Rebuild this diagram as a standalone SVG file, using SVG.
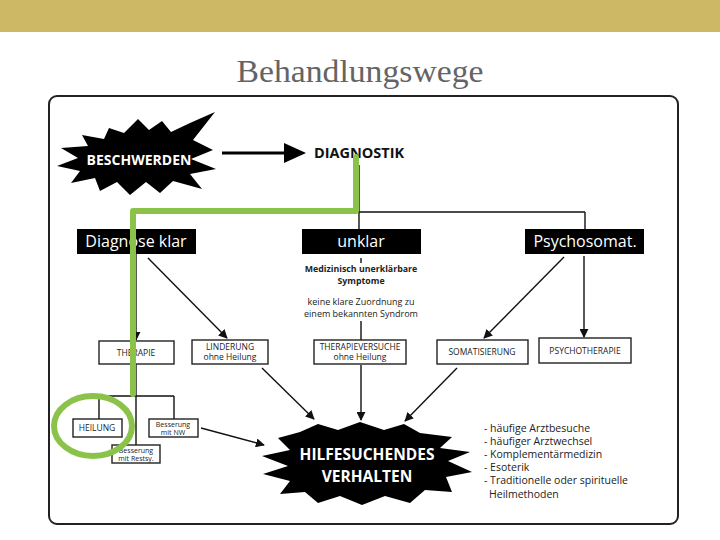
<svg xmlns="http://www.w3.org/2000/svg" width="720" height="540" viewBox="0 0 720 540">
<style>
.t{font-family:"Open Sans","DejaVu Sans",sans-serif}
.box{fill:#fff;stroke:#222;stroke-width:1.4}
.blk{fill:#000}
.bl{font-family:"Open Sans","DejaVu Sans",sans-serif;font-size:16px;fill:#fff;text-anchor:middle}
.bx{font-family:"Open Sans","DejaVu Sans",sans-serif;font-size:8.5px;fill:#222;text-anchor:middle}
.sm{font-size:7px}
.ln{stroke:#111;stroke-width:1.4;fill:none}
.ar{stroke:#111;stroke-width:1.4;fill:none;marker-end:url(#ah)}
.lst{font-family:"Open Sans","DejaVu Sans",sans-serif;font-size:10.5px;fill:#222}
.gr{stroke:#8BC34A;stroke-width:6;fill:none}
</style>
<defs>
<marker id="ah" viewBox="0 0 10 10" refX="9" refY="5" markerWidth="9" markerHeight="9" orient="auto" markerUnits="userSpaceOnUse">
<path d="M0,0 L10,5 L0,10 z" fill="#111"/>
</marker>
</defs>
<rect x="0" y="0" width="720" height="32" fill="#CDB965"/>
<text x="360" y="82" font-family="Liberation Serif,serif" font-size="31" fill="#646464" text-anchor="middle" textLength="247" lengthAdjust="spacingAndGlyphs">Behandlungswege</text>
<rect x="49" y="96" width="629" height="428" rx="8" fill="#fff" stroke="#222" stroke-width="2"/>

<g id="connectors">
<line x1="222" y1="153" x2="286" y2="153" stroke="#000" stroke-width="3"/>
<polygon points="284,143 306,153 284,163" fill="#000"/>
<line class="ln" x1="359" y1="165" x2="359" y2="229"/>
<line class="ln" x1="131" y1="212" x2="585" y2="212"/>
<line class="ln" x1="585" y1="212" x2="585" y2="229"/>
<line class="ln" x1="131" y1="212" x2="131" y2="229"/>
<line class="ar" x1="136" y1="254" x2="136" y2="340"/>
<line class="ar" x1="148" y1="258" x2="227" y2="338"/>
<line class="ln" x1="361" y1="258" x2="361" y2="263"/>
<line class="ln" x1="361" y1="321" x2="361" y2="340"/>
<line class="ar" x1="361" y1="365" x2="361" y2="420"/>
<line class="ar" x1="262" y1="368" x2="314" y2="419"/>
<line class="ar" x1="457" y1="368" x2="405" y2="421"/>
<line class="ar" x1="564" y1="257" x2="484" y2="338"/>
<line class="ar" x1="584" y1="256" x2="584" y2="337"/>
<line class="ln" x1="136" y1="364" x2="136" y2="445"/>
<line class="ln" x1="99" y1="396" x2="174" y2="396"/>
<line class="ln" x1="99" y1="396" x2="99" y2="419"/>
<line class="ln" x1="174" y1="396" x2="174" y2="419"/>
<line class="ar" x1="201" y1="428" x2="264" y2="445"/>
</g>

<g id="beschwerden">
<polygon class="blk" points="215,112 193,140 213,150 191,159 216,169 190,174 202,189 173,181 160,193 146,182 130,195 117,182 100,191 95,178 71,183 80,171 57,166 78,158 61,148 88,146 82,135 104,139 109,128 124,133 138,119 149,130 162,121 171,132 190,123"/>
<text class="t" x="139" y="165" font-size="14" font-weight="bold" fill="#fff" text-anchor="middle">BESCHWERDEN</text>
</g>
<g id="diagnostik">
<text class="t" x="314" y="158" font-size="14.5" font-weight="bold" fill="#111">DIAGNOSTIK</text>
</g>
<g id="diagnose-klar">
<rect class="blk" x="77" y="229" width="119" height="25"/>
<text class="bl" x="136" y="247">Diagnose klar</text>
</g>
<g id="unklar">
<rect class="blk" x="302" y="229" width="119" height="25"/>
<text class="bl" x="361" y="247">unklar</text>
</g>
<g id="psychosomat">
<rect class="blk" x="525" y="229" width="119" height="25"/>
<text class="bl" x="585" y="247">Psychosomat.</text>
</g>
<g id="mus">
<text class="t" x="361" y="272" font-size="8.8" font-weight="bold" fill="#222" text-anchor="middle">Medizinisch unerklärbare</text>
<text class="t" x="361" y="284" font-size="8.8" font-weight="bold" fill="#222" text-anchor="middle">Symptome</text>
<text class="t" x="361" y="305" font-size="9" fill="#222" text-anchor="middle">keine klare Zuordnung zu</text>
<text class="t" x="361" y="317" font-size="9" fill="#222" text-anchor="middle">einem bekannten Syndrom</text>
</g>
<g id="therapie">
<rect class="box" x="99" y="341" width="75" height="23"/>
<text class="bx" x="136" y="356">THERAPIE</text>
</g>
<g id="linderung">
<rect class="box" x="192" y="340" width="76" height="24"/>
<text class="bx" x="230" y="350">LINDERUNG</text>
<text class="bx" x="230" y="360">ohne Heilung</text>
</g>
<g id="therapieversuche">
<rect class="box" x="314" y="340" width="92" height="24"/>
<text class="bx" x="360" y="350">THERAPIEVERSUCHE</text>
<text class="bx" x="360" y="360">ohne Heilung</text>
</g>
<g id="somatisierung">
<rect class="box" x="437" y="340" width="91" height="24"/>
<text class="bx" x="482" y="355">SOMATISIERUNG</text>
</g>
<g id="psychotherapie">
<rect class="box" x="539" y="338" width="92" height="25"/>
<text class="bx" x="585" y="354">PSYCHOTHERAPIE</text>
</g>
<g id="heilung">
<rect class="box" x="73" y="419" width="49" height="18"/>
<text class="bx" x="97" y="431">HEILUNG</text>
</g>
<g id="besserung-nw">
<rect class="box" x="149" y="419" width="49" height="18"/>
<text class="bx sm" x="173" y="426.5">Besserung</text>
<text class="bx sm" x="173" y="434.5">mit NW</text>
</g>
<g id="besserung-restsy">
<rect class="box" x="112" y="445" width="48" height="18"/>
<text class="bx sm" x="136" y="452.5">Besserung</text>
<text class="bx sm" x="136" y="460.5">mit Restsy.</text>
</g>
<g id="hilfesuchendes">
<polygon class="blk" points="300,432 318,424 338,430 360,422 384,430 404,424 420,433 452,437 440,448 470,452 448,461 472,472 446,477 452,492 425,490 410,503 385,496 362,505 340,496 318,503 305,492 280,494 290,481 263,474 288,466 262,456 290,450 278,438"/>
<text class="t" x="367" y="460" font-size="15.5" font-weight="bold" fill="#fff" text-anchor="middle">HILFESUCHENDES</text>
<text class="t" x="367" y="482" font-size="15.5" font-weight="bold" fill="#fff" text-anchor="middle">VERHALTEN</text>
</g>
<g id="liste">
<text class="lst" x="484" y="432">- häufige Arztbesuche</text>
<text class="lst" x="484" y="445">- häufiger Arztwechsel</text>
<text class="lst" x="484" y="458">- Komplementärmedizin</text>
<text class="lst" x="484" y="471">- Esoterik</text>
<text class="lst" x="484" y="484">- Traditionelle oder spirituelle</text>
<text class="lst" x="489" y="498">Heilmethoden</text>
</g>
<g id="green-path">
<path class="gr" d="M356,157 L356,211 L133,211 L133,394" stroke-linejoin="round" stroke-linecap="round"/>
<ellipse class="gr" cx="93" cy="426" rx="39" ry="30"/>
</g>
</svg>
